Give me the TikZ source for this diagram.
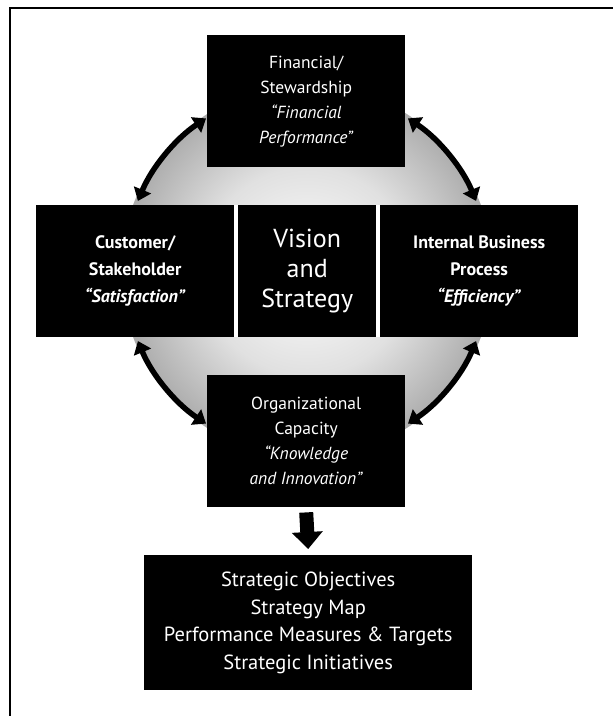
\documentclass[tikz,border=0pt]{standalone}
\usepackage{fontspec}
\setmainfont{PT Sans}
\usetikzlibrary{arrows.meta}
\pgfdeclareradialshading{ringshade}{\pgfpoint{0bp}{0bp}}{color(0bp)=(white); color(14bp)=(white!88!black); color(28bp)=(white!62!black); color(35bp)=(black!62); color(50bp)=(black!62)}
\begin{document}
\begin{tikzpicture}[x=1pt,y=-1pt,
  blk/.style={fill=black, text=white, inner sep=0pt, align=center, anchor=north west},
  midfont/.style={font=\fontsize{17.5}{25}\selectfont},
  ringarrow/.style={line width=5.5pt, black, {Triangle[width=18pt,length=12pt]}-{Triangle[width=18pt,length=12pt]}},
  bigarrow/.style={line width=14pt, black, -{Triangle[width=30pt,length=17pt]}},
  frame/.style={line width=1.8pt, black}
]
\useasboundingbox (0,0) rectangle (613,716);
\fill[white] (0,0) rectangle (613,716);
\draw[frame] (10,716) -- (10,8) -- (613,8);

% ring
\coordinate (c) at (307,271);
\shade[shading=ringshade] (c) circle (186pt);
\fill[white] (36,205) rectangle (578,337);

\draw[ringarrow] (c) ++(-157.5:183) arc[start angle=-157.5, end angle=-123.5, radius=183];
\draw[ringarrow] (c) ++(-22.5:183) arc[start angle=-22.5, end angle=-56.5, radius=183];
\draw[ringarrow] (c) ++(157.5:183) arc[start angle=157.5, end angle=123.5, radius=183];
\draw[ringarrow] (c) ++(22.5:183) arc[start angle=22.5, end angle=56.5, radius=183];

% boxes
\node[blk, midfont, minimum width=198pt, minimum height=132pt] (fin) at (207,35)
  {Financial/\\Stewardship\\\textit{“Financial}\\\textit{Performance”}};
\node[blk, font=\fontsize{18}{27}\selectfont\bfseries, minimum width=198pt, minimum height=132pt] (cus) at (36,205)
  {Customer/\\Stakeholder\\\textit{“Satisfaction”}};
\node[blk, font=\fontsize{26}{30}\selectfont, minimum width=138pt, minimum height=132pt] (vis) at (238,205)
  {Vision\\and\\Strategy};
\node[blk, font=\fontsize{18}{27}\selectfont\bfseries, minimum width=198pt, minimum height=132pt] (ibp) at (380,205)
  {Internal Business\\Process\\\textit{“Efficiency”}};
\node[blk, midfont, minimum width=198pt, minimum height=132pt] (org) at (207,375)
  {Organizational\\Capacity\\\textit{“Knowledge}\\\textit{and Innovation”}};
\node[blk, font=\fontsize{20.5}{27.5}\selectfont, minimum width=328pt, minimum height=135pt] (res) at (144,555)
  {Strategic Objectives\\Strategy Map\\Performance Measures \& Targets\\Strategic Initiatives};

\draw[bigarrow] ([yshift=-5pt]org.south) -- ([yshift=6pt]res.north);
\end{tikzpicture}
\end{document}
